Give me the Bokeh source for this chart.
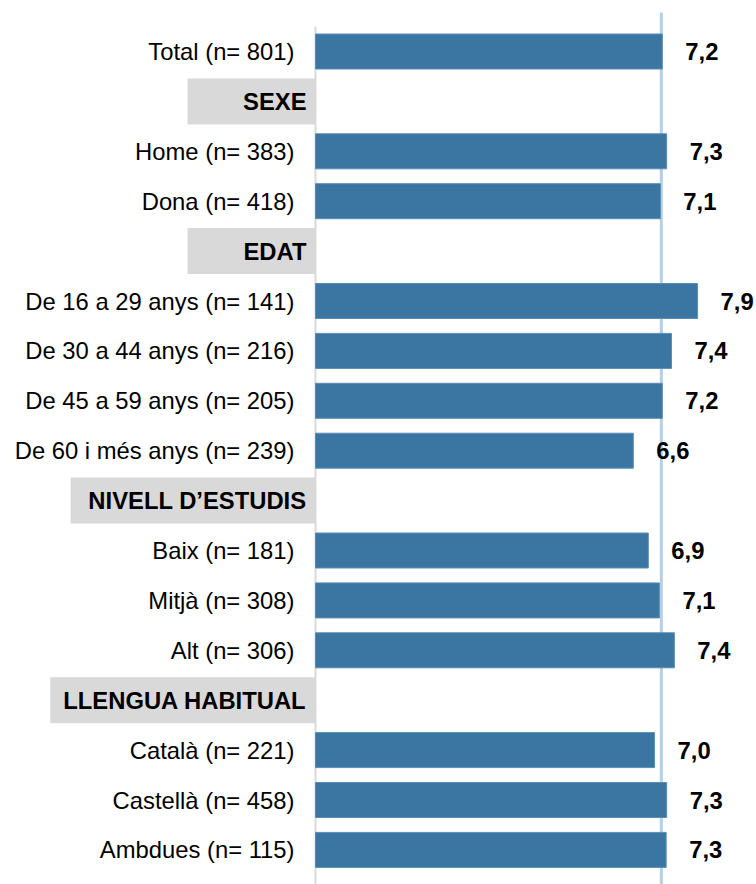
from bokeh.plotting import figure
from bokeh.models import Range1d, ColumnDataSource
from bokeh.core.properties import value
from bokeh.embed import file_html
from bokeh.resources import INLINE

# ---- data ----
row_labels = ["Total (n= 801)", "SEXE", "Home (n= 383)", "Dona (n= 418)", "EDAT",
              "De 16 a 29 anys (n= 141)", "De 30 a 44 anys (n= 216)",
              "De 45 a 59 anys (n= 205)", "De 60 i més anys (n= 239)",
              "NIVELL D\u2019ESTUDIS", "Baix (n= 181)", "Mitjà (n= 308)", "Alt (n= 306)",
              "LLENGUA HABITUAL", "Català (n= 221)", "Castellà (n= 458)", "Ambdues (n= 115)"]
row_values = [7.18, None, 7.27, 7.14, None,
              7.91, 7.37, 7.18, 6.58,
              None, 6.89, 7.12, 7.43,
              None, 7.02, 7.27, 7.26]
value_labels = ["7,2", None, "7,3", "7,1", None,
                "7,9", "7,4", "7,2", "6,6",
                None, "6,9", "7,1", "7,4",
                None, "7,0", "7,3", "7,3"]
reference_value = 7.16  # total

# ---- layout ----
W, H = 756, 884
px_per_unit = 48.3
zero_px = 315
row_px = 49.9
first_row_px = 51
header_left = {"SEXE": -2.65, "EDAT": -2.65, "NIVELL D\u2019ESTUDIS": -5.07, "LLENGUA HABITUAL": -5.49}

x0 = -zero_px / px_per_unit
x1 = (W - zero_px) / px_per_unit
ytop = -first_row_px / row_px
ybot = (H - first_row_px) / row_px

p = figure(width=W, height=H, output_backend="svg", toolbar_location=None,
           x_range=Range1d(x0, x1), y_range=Range1d(ybot, ytop),
           min_border=0, min_border_left=0, min_border_right=0,
           min_border_top=0, min_border_bottom=0)
p.axis.visible = False
p.grid.visible = False
p.outline_line_color = None
p.background_fill_color = "white"
p.border_fill_color = "white"

bar_y, bar_v, bar_l, bar_t = [], [], [], []
hdr_y, hdr_l, hdr_left = [], [], []
for i, (lab, v, t) in enumerate(zip(row_labels, row_values, value_labels)):
    if v is None:
        hdr_y.append(i); hdr_l.append(lab); hdr_left.append(header_left[lab])
    else:
        bar_y.append(i); bar_v.append(v); bar_l.append(lab); bar_t.append(t)

bars = ColumnDataSource(dict(y=bar_y, v=bar_v, lab=bar_l, t=bar_t,
                             tx=[v + 23 / px_per_unit for v in bar_v]))
hdrs = ColumnDataSource(dict(y=hdr_y, lab=hdr_l, left=hdr_left, right=[0] * len(hdr_y)))

# header boxes
p.hbar(y="y", left="left", right="right", height=46 / row_px, source=hdrs,
       fill_color="#d9d9d9", line_color=None)

# axis line
p.segment(x0=[0], y0=[(26 - 51) / row_px], x1=[0], y1=[ybot], line_color="#d9d9d9", line_width=2)

# reference line (behind bars)
p.segment(x0=[reference_value], y0=[(12 - 51) / row_px], x1=[reference_value], y1=[ybot],
          line_color="#b3d0e8", line_width=3)

# bars
p.hbar(y="y", left=0, right="v", height=35 / row_px, source=bars,
       fill_color="#3a76a1", line_color="#5a8db5", line_width=1)

# labels
p.text(x=-21 / px_per_unit, y="y", text="lab", source=bars, text_align="right",
       text_baseline="middle", text_font=value("Liberation Sans"),
       text_font_size="23.8px", text_color="#000000")
p.text(x=-9 / px_per_unit, y="y", text="lab", source=hdrs, text_align="right",
       text_baseline="middle", text_font=value("Liberation Sans"),
       text_font_size="23.8px", text_font_style="bold", text_color="#000000")
p.text(x="tx", y="y", text="t", source=bars, text_align="left",
       text_baseline="middle", text_font=value("Liberation Sans"),
       text_font_size="23.8px", text_font_style="bold", text_color="#000000")

open("out.html", "w").write(file_html(p, INLINE))
